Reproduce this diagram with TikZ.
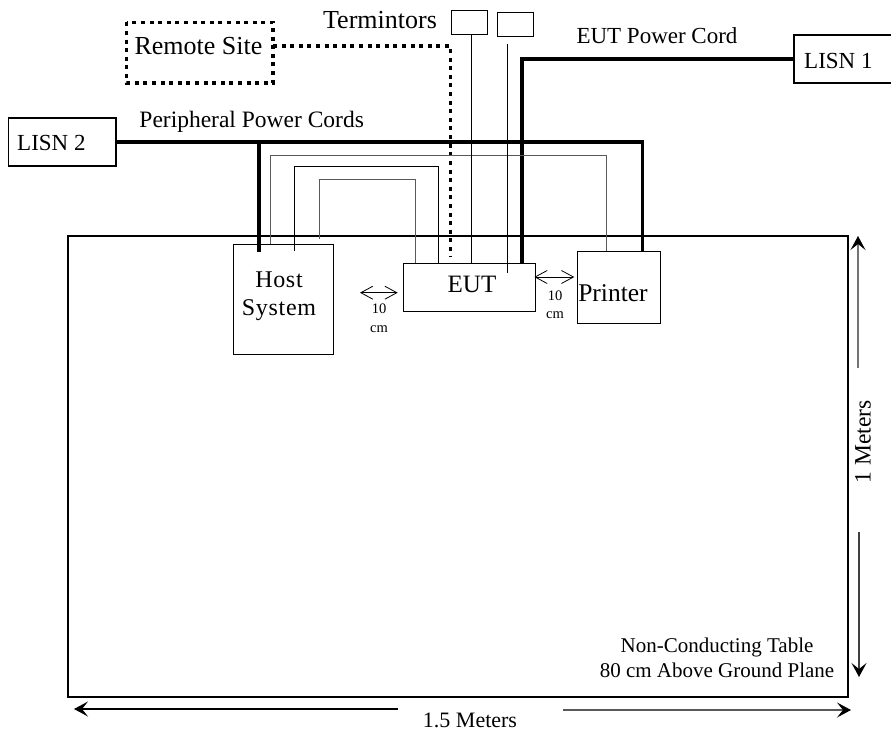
\documentclass[tikz,border=0pt]{standalone}
\usepackage{fontspec}
\setmainfont{Liberation Serif}
\usetikzlibrary{arrows.meta}
\newcommand{\txt}[1]{\fontsize{#1}{#1}\selectfont}
\tikzset{
    box/.style={draw, rectangle, inner sep=0pt, line width=1pt, anchor=north west},
    heavybox/.style={box, line width=1.8pt},
    word/.style={inner sep=0pt, align=center},
    powercord/.style={line width=3.4pt},
    signal/.style={line width=1pt},
    greysignal/.style={line width=1pt, black!65},
    remote/.style={line width=3.4pt, dash pattern=on 4pt off 4.6pt},
    gap/.style={line width=0.8pt, {Straight Barb[length=12pt,width=13pt]}-{Straight Barb[length=12pt,width=13pt]}},
    span/.style={line width=1.2pt, -{Stealth[length=14pt,width=15pt,inset=6pt,black]}}
}
\begin{document}
\begin{tikzpicture}[x=1pt, y=-1pt]
    \useasboundingbox (0,0) rectangle (891,733);
    \node (table) [heavybox, minimum width=780, minimum height=461] at (67,235) {};
    \node (host) [box, minimum width=100, minimum height=110] at (233,244) {};
    \node (eut) [box, minimum width=132.5, minimum height=48.5] at (402.5,262.5) {};
    \node (printer) [box, minimum width=83.5, minimum height=72] at (576.7,251) {};
    \node (hostname) [word, font=\txt{24}\addfontfeatures{LetterSpace=3}] at (279,296.5) {Host\\[4pt]System};
    \node (eutname) [word, font=\txt{25}] at (472,284) {EUT};
    \node (printername) [word, font=\txt{25.5}] at (613,293) {Printer};
    \node (remotesite) [box, draw=none, minimum width=145.5, minimum height=59.5] at (126.5,22.5) {};
    \node (remotename) [word, font=\txt{26}] at (198.5,46) {Remote Site};
    \node (termone) [box, minimum width=36, minimum height=24] at (451,10.5) {};
    \node (termtwo) [box, minimum width=36, minimum height=23.5] at (496.5,12.5) {};
    \node (lisnone) [heavybox, minimum width=100, minimum height=48] at (793,34) {};
    \node (lisntwo) [heavybox, minimum width=107.5, minimum height=48] at (7.5,117) {};
    \node (lisnonename) [word, anchor=west, font=\txt{23}] at (804,61) {LISN 1};
    \node (lisntwoname) [word, anchor=west, font=\txt{23}] at (17,143) {LISN 2};
    \node (termname) [word, font=\txt{26}] at (380,20) {Termintors};
    \node (eutcordname) [word, font=\txt{23}] at (657,36) {EUT Power Cord};
    \node (perifname) [word, font=\txt{23.5}] at (251.7,121.5) {Peripheral Power Cords};
    \node (tablename) [word, font=\txt{21}] at (717,658) {Non-Conducting Table\\[3.5pt]80 cm Above Ground Plane};
    \node (widthname) [word, font=\txt{22}] at (470,720) {1.5 Meters};
    \node (depthname) [word, rotate=90, font=\txt{23.5}] at (863,442) {1 Meters};
    \node (gapone) [word, font=\txt{14.5}] at (379,318) {10\\[4pt]cm};
    \node (gaptwo) [word, font=\txt{14.5}] at (555,304.5) {10\\[4pt]cm};
    % ends of the cords inside the boxes
    \coordinate (hostpower) at (259,252);
    \coordinate (hostgrey) at (270.5,244);
    \coordinate (hostsignal) at (294.5,251);
    \coordinate (hostcable) at (319,239);
    \coordinate (eutcable) at (415,262.5);
    \coordinate (eutsignal) at (438.7,262.5);
    \coordinate (eutremote) at (450.5,257);
    \coordinate (eutterm) at (471.3,264);
    \coordinate (euttermtwo) at (507.3,273);
    \coordinate (eutpower) at (522,263);
    \coordinate (printergrey) at (606.5,251);
    \coordinate (printerpower) at (642.5,252);
    \coordinate (termtwotop) at (507.3,44);
    \coordinate (leftgapa) at (360,292.7);
    \coordinate (leftgapb) at (397.7,292.7);
    \coordinate (rightgapa) at (534.3,277);
    \coordinate (rightgapb) at (574.3,277);
    \coordinate (widthleft) at (397.5,709);
    \coordinate (widthtipl) at (74,709);
    \coordinate (widthright) at (562.5,710);
    \coordinate (widthtipr) at (851,710);
    \coordinate (deptha) at (858,368);
    \coordinate (depthtipa) at (858,236);
    \coordinate (depthb) at (859,532);
    \coordinate (depthtipb) at (859,677);
    \draw[remote] (remotesite.north west) rectangle (remotesite.south east);
    \draw[remote] (remotesite.east |- remotename) -- (eutremote |- remotename) -- (eutremote);
    \draw[powercord] (lisntwo.east) -| (printerpower);
    \draw[powercord] (hostpower) -- (hostpower |- lisntwo.east);
    \draw[powercord] (lisnone.west) -| (eutpower);
    \draw[greysignal] (hostgrey) -- ++(0,-89) -| (printergrey);
    \draw[signal] (hostsignal) -- ++(0,-84.5) -| (eutsignal);
    \draw[greysignal] (hostcable) -- ++(0,-60) -| (eutcable);
    \draw[signal] (termone.south -| eutterm) -- (eutterm);
    \draw[signal] (termtwotop) -- (euttermtwo);
    \draw[gap] (leftgapa) -- (leftgapb);
    \draw[gap] (rightgapa) -- (rightgapb);
    \draw[span, black] (widthleft) -- (widthtipl);
    \draw[span, black!65] (widthright) -- (widthtipr);
    \draw[span, black!55] (deptha) -- (depthtipa);
    \draw[span, black!75] (depthb) -- (depthtipb);
\end{tikzpicture}
\end{document}
